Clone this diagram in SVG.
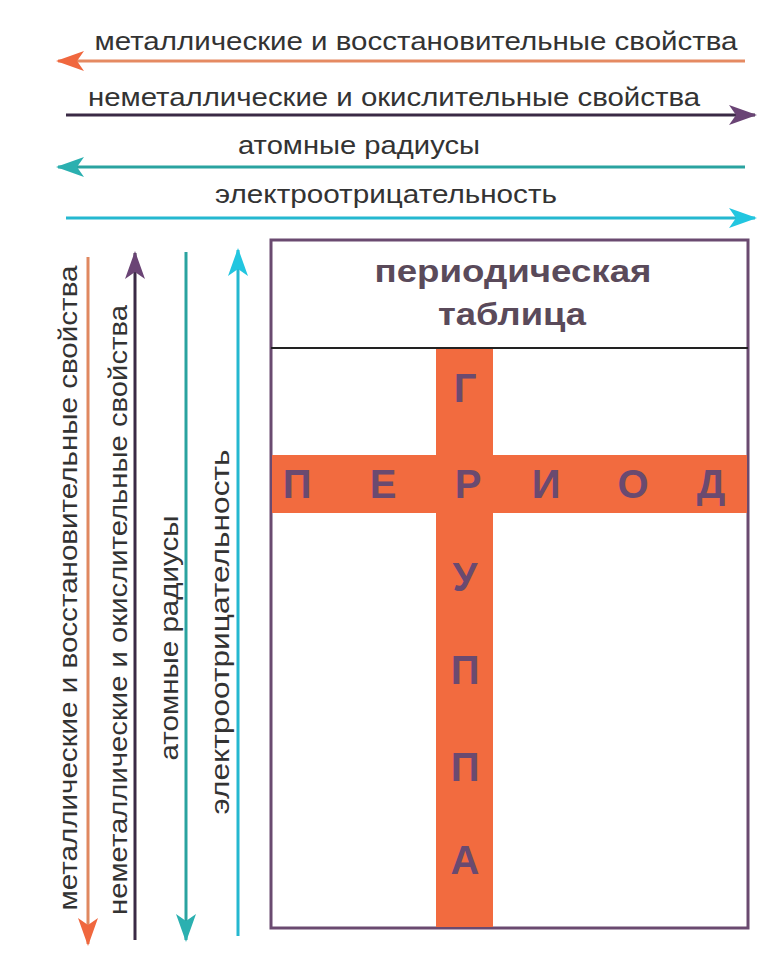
<svg xmlns="http://www.w3.org/2000/svg" width="774" height="970" viewBox="0 0 774 970">
<defs>
<marker id="ao" viewBox="0 0 28 20" refX="26" refY="10" markerWidth="28" markerHeight="20" markerUnits="userSpaceOnUse" orient="auto"><path d="M0,0 L28,10 L0,20 L7,10 Z" fill="#f0673e"/></marker>
<marker id="ap" viewBox="0 0 28 20" refX="26" refY="10" markerWidth="28" markerHeight="20" markerUnits="userSpaceOnUse" orient="auto"><path d="M0,0 L28,10 L0,20 L7,10 Z" fill="#6a4475"/></marker>
<marker id="at" viewBox="0 0 28 20" refX="26" refY="10" markerWidth="28" markerHeight="20" markerUnits="userSpaceOnUse" orient="auto"><path d="M0,0 L28,10 L0,20 L7,10 Z" fill="#2bb0b0"/></marker>
<marker id="ac" viewBox="0 0 28 20" refX="26" refY="10" markerWidth="28" markerHeight="20" markerUnits="userSpaceOnUse" orient="auto"><path d="M0,0 L28,10 L0,20 L7,10 Z" fill="#22c6e0"/></marker>
</defs>
<style>
.lbl{font-family:"Liberation Sans",Arial,sans-serif;font-size:26px;fill:#333;text-anchor:middle}
.ttl{font-family:"Liberation Sans",Arial,sans-serif;font-size:31px;font-weight:bold;fill:#5a4a5a;text-anchor:middle}
.big{font-family:"Liberation Sans",Arial,sans-serif;font-size:40px;font-weight:bold;fill:#6a4a70;text-anchor:middle}
</style>
<rect width="774" height="970" fill="#fff"/>
<g id="connectors" stroke-width="3" fill="none">
<line x1="745" y1="61" x2="58" y2="61" stroke="#e58a62" marker-end="url(#ao)"/>
<line x1="66" y1="115" x2="755" y2="115" stroke="#3a2a45" marker-end="url(#ap)"/>
<line x1="745" y1="167" x2="58" y2="167" stroke="#2aa3a0" marker-end="url(#at)"/>
<line x1="66" y1="218" x2="755" y2="218" stroke="#25b8d0" marker-end="url(#ac)"/>
<line x1="88" y1="257" x2="88" y2="944" stroke="#e08860" marker-end="url(#ao)"/>
<line x1="135" y1="940" x2="135" y2="253" stroke="#3a2a45" marker-end="url(#ap)"/>
<line x1="186" y1="252" x2="186" y2="940" stroke="#2aa3a0" marker-end="url(#at)"/>
<line x1="238" y1="936" x2="238" y2="250" stroke="#25b8d0" marker-end="url(#ac)"/>
</g>
<g id="labels">
<text class="lbl" x="416" y="50" textLength="643" lengthAdjust="spacingAndGlyphs">металлические и восстановительные свойства</text>
<text class="lbl" x="394" y="106" textLength="612" lengthAdjust="spacingAndGlyphs">неметаллические и окислительные свойства</text>
<text class="lbl" x="359" y="154" textLength="242" lengthAdjust="spacingAndGlyphs">атомные радиусы</text>
<text class="lbl" x="386" y="203" textLength="342" lengthAdjust="spacingAndGlyphs">электроотрицательность</text>
<text class="lbl" transform="translate(77,588) rotate(-90)" textLength="645" lengthAdjust="spacingAndGlyphs">металлические и восстановительные свойства</text>
<text class="lbl" transform="translate(127,610) rotate(-90)" textLength="610" lengthAdjust="spacingAndGlyphs">неметаллические и окислительные свойства</text>
<text class="lbl" transform="translate(178,638) rotate(-90)" textLength="245" lengthAdjust="spacingAndGlyphs">атомные радиусы</text>
<text class="lbl" transform="translate(229,632) rotate(-90)" textLength="365" lengthAdjust="spacingAndGlyphs">электроотрицательность</text>
</g>
<g id="table">
<rect x="271" y="240" width="477" height="688" fill="#fff" stroke="#6a4a70" stroke-width="3"/>
<line x1="271" y1="348" x2="748" y2="348" stroke="#222" stroke-width="2"/>
<text class="ttl" x="513" y="282" textLength="277" lengthAdjust="spacingAndGlyphs">периодическая</text>
<text class="ttl" x="512" y="325" textLength="148" lengthAdjust="spacingAndGlyphs">таблица</text>
</g>
<g id="cross">
<rect x="272" y="455" width="475" height="58" fill="#f26b3f"/>
<rect x="436" y="349" width="57" height="578" fill="#f26b3f"/>
<text class="big" x="297" y="498">П</text>
<text class="big" x="383" y="498">Е</text>
<text class="big" x="468" y="498">Р</text>
<text class="big" x="546" y="498">И</text>
<text class="big" x="633" y="498">О</text>
<text class="big" x="711" y="498">Д</text>
<text class="big" x="465" y="402">Г</text>
<text class="big" x="465" y="591">У</text>
<text class="big" x="465" y="684">П</text>
<text class="big" x="465" y="781">П</text>
<text class="big" x="465" y="874">А</text>
</g>
</svg>
